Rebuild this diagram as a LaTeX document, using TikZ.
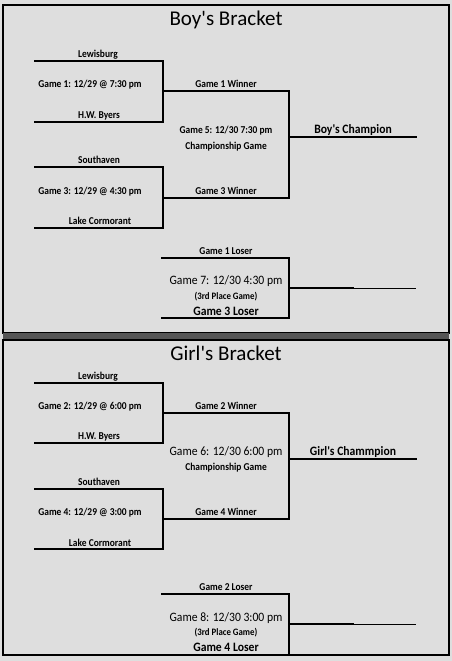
\documentclass[tikz,border=0pt]{standalone}
\usepackage{fontspec}
\setmainfont{Carlito}
\definecolor{bg}{HTML}{DEDEDE}
\definecolor{band}{HTML}{555555}
\newcommand{\apos}{\textquotesingle}
\begin{document}
\begin{tikzpicture}[x=1pt,y=-1pt,
  br/.style={line width=1.5pt,line cap=rect},
  thin3/.style={line width=1pt},
  frame/.style={line width=2pt},
  lblS/.style={inner sep=0pt,anchor=base,xscale=0.9,font=\fontsize{10.5}{12}\selectfont\bfseries},
  lblM/.style={inner sep=0pt,anchor=base,xscale=0.91,font=\fontsize{12.8}{14}\selectfont},
  lblMB/.style={inner sep=0pt,anchor=base,xscale=0.91,font=\fontsize{12.8}{14}\selectfont\bfseries},
  lblP/.style={inner sep=0pt,anchor=base,xscale=0.9,font=\fontsize{9.8}{11}\selectfont\bfseries},
  ttl/.style={inner sep=0pt,anchor=base,font=\fontsize{21}{25}\selectfont}]
\useasboundingbox (0,0) rectangle (452,661);
\fill[bg] (0,0) rectangle (452,661);
% frames
\draw[frame] (3,5) rectangle (449,333);
\fill[band] (3,333) rectangle (449,340);
\draw[frame] (3,340) rectangle (449,655);

% ---------- Boy's bracket ----------
\node[ttl] (t1) at (226,25.5) {Boy\apos s Bracket};
\draw[br] (35,61) -- (163,61) -- (163,122) -- (35,122);
\draw[br] (163,91) -- (289,91) -- (289,198) -- (163,198);
\draw[br] (35,167) -- (163,167) -- (163,228) -- (35,228);
\draw[br] (289,137) -- (416,137);
\draw[br] (162,258) -- (289,258) -- (289,318) -- (162,318);
\draw[br] (289,288) -- (353,288);
\draw[thin3] (353,288) -- (416,288);

\node[lblS] (b1) at (98,57.3) {Lewisburg};
\node[lblS] (b2) at (90,87.3) {Game 1: 12/29 @ 7:30 pm};
\node[lblS] (b3) at (99,118.3) {H.W. Byers};
\node[lblS] (b4) at (226,87.3) {Game 1 Winner};
\node[lblS] (b5) at (226,133.3) {Game 5: 12/30 7:30 pm};
\node[lblS] (b6) at (226,149) {Championship Game};
\node[lblMB] (b7) at (353,133) {Boy\apos s Champion};
\node[lblS] (b8) at (99,163.3) {Southaven};
\node[lblS] (b9) at (90,194) {Game 3: 12/29 @ 4:30 pm};
\node[lblS] (b10) at (226,194) {Game 3 Winner};
\node[lblS] (b11) at (100,224) {Lake Cormorant};
\node[lblS] (b12) at (226,254) {Game 1 Loser};
\node[lblM] (b13) at (226,284) {Game 7: 12/30 4:30 pm};
\node[lblP] (b14) at (226,299) {(3rd Place Game)};
\node[lblMB] (b15) at (226,315) {Game 3 Loser};

% ---------- Girl's bracket ----------
\node[ttl] (t2) at (226,360.7) {Girl\apos s Bracket};
\draw[br] (35,383) -- (163,383) -- (163,443) -- (35,443);
\draw[br] (163,413) -- (289,413) -- (289,519) -- (163,519);
\draw[br] (35,489) -- (163,489) -- (163,549) -- (35,549);
\draw[br] (289,459) -- (416,459);
\draw[br] (162,594) -- (289,594) -- (289,655);
\draw[br] (289,624) -- (353,624);
\draw[thin3] (353,624) -- (416,624);

\node[lblS] (g1) at (98,379.3) {Lewisburg};
\node[lblS] (g2) at (90,409.3) {Game 2: 12/29 @ 6:00 pm};
\node[lblS] (g3) at (99,439.3) {H.W. Byers};
\node[lblS] (g4) at (226,409.3) {Game 2 Winner};
\node[lblM] (g5) at (226,455) {Game 6: 12/30 6:00 pm};
\node[lblS] (g6) at (226,470) {Championship Game};
\node[lblMB] (g7) at (353,455) {Girl\apos s Chammpion};
\node[lblS] (g8) at (99,485) {Southaven};
\node[lblS] (g9) at (90,515.3) {Game 4: 12/29 @ 3:00 pm};
\node[lblS] (g10) at (226,515.3) {Game 4 Winner};
\node[lblS] (g11) at (100,546) {Lake Cormorant};
\node[lblS] (g12) at (226,590) {Game 2 Loser};
\node[lblM] (g13) at (226,621) {Game 8: 12/30 3:00 pm};
\node[lblP] (g14) at (226,635) {(3rd Place Game)};
\node[lblMB] (g15) at (226,651) {Game 4 Loser};
\end{tikzpicture}
\end{document}
